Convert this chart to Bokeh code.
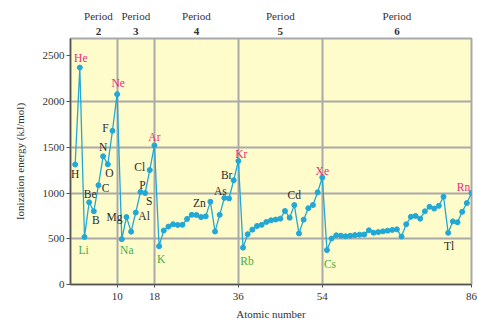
from bokeh.plotting import figure
from bokeh.models import Range1d, FixedTicker, LinearAxis, ColumnDataSource
from bokeh.core.properties import value
from bokeh.embed import file_html
from bokeh.resources import INLINE

# ---------------- data ----------------
atomic_number = list(range(1, 87))
ionization_energy = [
    1312, 2372,
    520, 899, 801, 1086, 1402, 1314, 1681, 2081,
    496, 738, 578, 787, 1012, 1000, 1251, 1521,
    419, 590, 633, 659, 651, 653, 717, 762, 760, 737, 745, 906, 579, 762, 947, 941, 1140, 1351,
    403, 550, 600, 640, 652, 684, 702, 710, 720, 804, 731, 868, 558, 709, 834, 869, 1008, 1170,
    376, 503, 538, 534, 527, 533, 540, 545, 547, 593, 566, 573, 581, 589, 597, 603, 524,
    659, 740, 750, 720, 800, 850, 830, 860, 960, 565, 690, 680, 795, 890, 1000,
]

label_symbol = ["H", "He", "Li", "Be", "B", "C", "N", "O", "F", "Ne", "Na", "Mg", "Al",
                "P", "S", "Cl", "Ar", "K", "Zn", "As", "Br", "Kr", "Rb", "Cd", "Xe",
                "Cs", "Tl", "Rn"]
label_z = [1, 2, 3, 4, 5, 6, 7, 8, 9, 10, 11, 12, 13, 15, 16, 17, 18, 19, 30, 33, 35,
           36, 37, 48, 54, 55, 81, 86]
label_group = ["o", "n", "a", "o", "o", "o", "o", "o", "o", "n", "a", "o", "o",
               "o", "o", "o", "n", "a", "o", "o", "o", "n", "a", "o", "n",
               "a", "o", "n"]

x_ticks = [10, 18, 36, 54, 86]
y_ticks = [0, 500, 1000, 1500, 2000, 2500]
period_boundaries = [10, 18, 36, 54]
period_centers = [6, 14, 27, 45, 70]
period_numbers = ["2", "3", "4", "5", "6"]

# ---------------- layout / styles ----------------
label_dx = [0, 1, -1, 1, 2, 7, 0, 1.5, -7, 1, 5, -12, 13,
            2, 4, -10, 0, 2, -11, -4, -7, 3, 4, 0, 0, 3, 1, -8]
label_dy = [9, -10, 13, -8, 9, 2.5, -9, 9, -3, -11, 11, 0, -15.5,
            -7, 8, -3, -8, 13, 1, -7, -5.5, -7, 13, -10, -7, 13.5, 12.7, -6]
group_color = {"n": "#ec2a7c", "a": "#3fae49", "o": "#2b2b2b"}

SERIF = "Liberation Serif"
LINE = "#22a8d4"
GRID = "#a9a9a9"
BG = "#fefccb"

p = figure(width=477, height=324, output_backend="svg", toolbar_location=None,
           x_range=Range1d(0, 86), y_range=Range1d(0, 2690),
           min_border_left=70, min_border_right=6, min_border_top=38, min_border_bottom=40)
p.background_fill_color = BG
p.border_fill_color = "white"
p.outline_line_color = GRID
p.outline_line_width = 2

# axes
p.xaxis.ticker = FixedTicker(ticks=x_ticks)
p.yaxis.ticker = FixedTicker(ticks=y_ticks)
for ax in (p.xaxis[0], p.yaxis[0]):
    ax.axis_line_color = "#555555"
    ax.axis_line_width = 1.5
    ax.major_tick_line_color = "#555555"
    ax.major_tick_in = 0
    ax.minor_tick_line_color = None
    ax.major_label_text_font = SERIF
    ax.major_label_text_font_size = "11px"
    ax.major_label_text_color = "#333333"
    ax.axis_label_text_font = SERIF
    ax.axis_label_text_font_size = "11px"
    ax.axis_label_text_font_style = "normal"
    ax.axis_label_text_color = "#333333"
p.xaxis.major_tick_out = 3
p.xaxis.major_label_standoff = 5
p.xaxis.axis_label = "Atomic number"
p.xaxis.axis_label_standoff = 5
p.yaxis.major_tick_out = 4
p.yaxis.major_label_standoff = 2
p.yaxis.axis_label = "Ionization energy (kJ/mol)"
p.yaxis.axis_label_standoff = 14

# grid
p.xgrid.ticker = FixedTicker(ticks=period_boundaries)
p.ygrid.ticker = FixedTicker(ticks=[500, 1000, 1500, 2000])
for g in (p.xgrid[0], p.ygrid[0]):
    g.grid_line_color = GRID
    g.grid_line_width = 2

# period labels above
num_axis = LinearAxis(ticker=FixedTicker(ticks=period_centers),
                      major_label_overrides={c: n for c, n in zip(period_centers, period_numbers)})
per_axis = LinearAxis(ticker=FixedTicker(ticks=period_centers),
                      major_label_overrides={c: "Period" for c in period_centers})
for ax, st, bold in ((num_axis, 4, "bold"), (per_axis, 3, "normal")):
    ax.axis_line_color = None
    ax.major_tick_line_color = None
    ax.minor_tick_line_color = None
    ax.major_tick_in = 0
    ax.major_tick_out = 0
    ax.major_label_standoff = st
    ax.major_label_text_font = SERIF
    ax.major_label_text_font_size = "11px"
    ax.major_label_text_font_style = bold
    ax.major_label_text_color = "#333333"
p.add_layout(num_axis, "above")
p.add_layout(per_axis, "above")

# data
src = ColumnDataSource(dict(z=atomic_number, ie=ionization_energy))
p.line("z", "ie", source=src, line_color=LINE, line_width=1.3)
p.scatter("z", "ie", source=src, size=5, fill_color=LINE, line_color=LINE)

lab = ColumnDataSource(dict(
    x=label_z,
    y=[ionization_energy[z - 1] for z in label_z],
    t=label_symbol,
    c=[group_color[g] for g in label_group],
    dx=label_dx,
    dy=label_dy,
))
p.text("x", "y", text="t", source=lab, text_color="c", x_offset="dx", y_offset="dy",
       text_align="center", text_baseline="middle",
       text_font=value(SERIF), text_font_size="11.5px")

open("out.html", "w").write(file_html(p, INLINE))
